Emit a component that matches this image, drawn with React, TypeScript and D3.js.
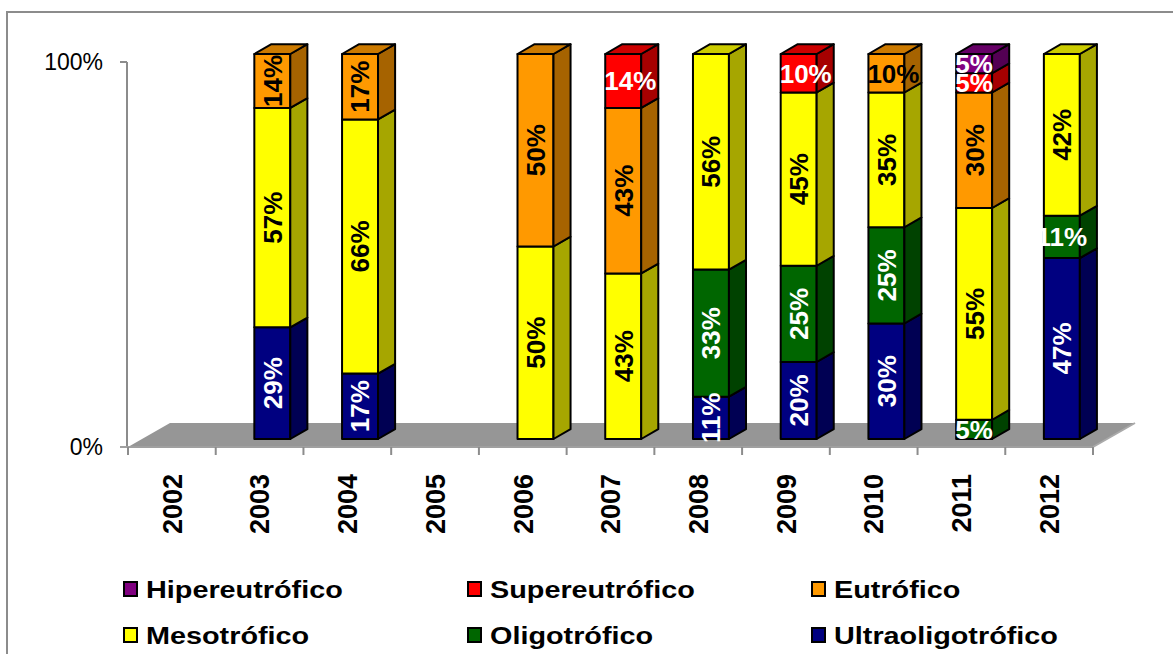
import React from 'react';
import * as d3 from 'd3';

const years = ['2002', '2003', '2004', '2005', '2006', '2007', '2008', '2009', '2010', '2011', '2012'];
const seriesNames = ['Ultraoligotrófico', 'Oligotrófico', 'Mesotrófico', 'Eutrófico', 'Supereutrófico', 'Hipereutrófico'];
const ultra = [0, 29, 17, 0, 0, 0, 11, 20, 30, 0, 47];
const oligo = [0, 0, 0, 0, 0, 0, 33, 25, 25, 5, 11];
const meso = [0, 57, 66, 0, 50, 43, 56, 45, 35, 55, 42];
const eutr = [0, 14, 17, 0, 50, 43, 0, 0, 10, 30, 0];
const superE = [0, 0, 0, 0, 0, 14, 0, 10, 0, 5, 0];
const hiper = [0, 0, 0, 0, 0, 0, 0, 0, 0, 5, 0];
const yTicks = [0, 100];
const legendOrder = ['Hipereutrófico', 'Supereutrófico', 'Eutrófico', 'Mesotrófico', 'Oligotrófico', 'Ultraoligotrófico'];

const colors: Record<string, string> = {
  'Ultraoligotrófico': '#000080',
  'Oligotrófico': '#006600',
  'Mesotrófico': '#FFFF00',
  'Eutrófico': '#FF9900',
  'Supereutrófico': '#FF0000',
  'Hipereutrófico': '#800080',
};
const labelColor: Record<string, string> = {
  'Ultraoligotrófico': '#fff',
  'Oligotrófico': '#fff',
  'Mesotrófico': '#000',
  'Eutrófico': '#000',
  'Supereutrófico': '#fff',
  'Hipereutrófico': '#fff',
};

const shade = (c: string, k: number) => {
  const r = d3.rgb(c);
  return d3.rgb(r.r * k, r.g * k, r.b * k).formatHex();
};

const FONT = '"Liberation Sans", Arial, sans-serif';

export default function App() {
  const W = 1173, H = 654;
  const x0 = 128, x1 = 1093;
  const yBase = 447, yTop = 62;
  const floorDx = 42, floorDy = 24;
  const frontF = 1 / 3, backF = 0.74;

  const table = years.map((yr, i) => ({
    year: yr,
    'Ultraoligotrófico': ultra[i],
    'Oligotrófico': oligo[i],
    'Mesotrófico': meso[i],
    'Eutrófico': eutr[i],
    'Supereutrófico': superE[i],
    'Hipereutrófico': hiper[i],
  }));
  const stacked = d3.stack<any>().keys(seriesNames)(table);

  const x = d3.scaleBand<string>().domain(years).range([x0, x1]).paddingInner(0).paddingOuter(0);
  const y = d3.scaleLinear().domain([0, 100]).range([yBase, yTop]);
  const bw = x.bandwidth();
  const barW = bw * 0.41;
  const fdx = floorDx * frontF, fdy = floorDy * frontF;
  const ddx = floorDx * (backF - frontF), ddy = floorDy * (backF - frontF);

  const bars: any[] = [];
  const labels: any[] = [];
  years.forEach((yr, i) => {
    const total = seriesNames.reduce((s, _k, j) => s + (stacked[j][i][1] - stacked[j][i][0]), 0);
    if (total === 0) return;
    const left = (x(yr) as number) + bw * 0.44 + fdx - 14;
    const right = left + barW;
    let topIdx = -1;
    stacked.forEach((s, j) => { if (s[i][1] - s[i][0] > 0) topIdx = j; });
    stacked.forEach((s, j) => {
      const v = s[i][1] - s[i][0];
      if (v <= 0) return;
      const key = s.key;
      const yb = y(s[i][0]) - fdy;
      const yt = y(s[i][1]) - fdy;
      const c = colors[key];
      bars.push(
        <g key={`${yr}-${key}`} stroke="#000" strokeWidth={2} strokeLinejoin="round">
          <rect x={left} y={yt} width={barW} height={yb - yt} fill={c} />
          <polygon points={`${right},${yt} ${right + ddx},${yt - ddy} ${right + ddx},${yb - ddy} ${right},${yb}`} fill={shade(c, 0.65)} />
          {j === topIdx && (
            <polygon points={`${left},${yt} ${left + ddx},${yt - ddy} ${right + ddx},${yt - ddy} ${right},${yt}`} fill={shade(c, 0.8)} />
          )}
        </g>
      );
      const cx = (left + right) / 2;
      const cy = (yt + yb) / 2;
      const horizontal = key === 'Supereutrófico' || key === 'Hipereutrófico' || (key !== 'Ultraoligotrófico' && v < 12);
      const txt = `${v}%`;
      if (horizontal) {
        const leftAlign = j === topIdx && txt.length > 2;
        labels.push(
          <text key={`l-${yr}-${key}`} x={leftAlign ? left - 1 : cx} y={cy} dy="0.36em" textAnchor={leftAlign ? 'start' : 'middle'}
            fill={labelColor[key]} fontFamily={FONT} fontWeight="bold" fontSize={26}>{txt}</text>
        );
      } else {
        labels.push(
          <text key={`l-${yr}-${key}`} transform={`translate(${cx},${cy}) rotate(-90)`} dy="0.36em" textAnchor="middle"
            fill={labelColor[key]} fontFamily={FONT} fontWeight="bold" fontSize={26}>{txt}</text>
        );
      }
    });
  });

  return (
    <svg width={W} height={H} style={{ position: 'absolute', left: 0, top: 0, display: 'block' }}>
      <rect x={0} y={0} width={W} height={H} fill="#fff" />
      <rect x={7} y={12} width={1185} height={670} fill="#fff" stroke="#8c8c8c" strokeWidth={2} />
      {/* floor */}
      <polygon points={`${x0},${yBase} ${x1},${yBase} ${x1 + floorDx},${yBase - floorDy} ${x0 + floorDx},${yBase - floorDy}`} fill="#969696" />
      <line x1={x1} y1={yBase} x2={x1 + floorDx} y2={yBase - floorDy} stroke="#aaaaaa" strokeWidth={2} />
      {/* y axis */}
      <line x1={x0 - 1} y1={yTop} x2={x0 - 1} y2={yBase} stroke="#8c8c8c" strokeWidth={2} />
      {yTicks.map(t => (
        <g key={`yt-${t}`}>
          <line x1={x0 - 8} x2={x0 - 1} y1={y(t)} y2={y(t)} stroke="#8c8c8c" strokeWidth={2} />
          <text x={103} y={y(t)} dy="0.36em" textAnchor="end" fontFamily={FONT} fontSize={23} fill="#000">{t}%</text>
        </g>
      ))}
      {/* x axis */}
      <line x1={x0 - 8} x2={x1} y1={yBase} y2={yBase} stroke="#a0a0a0" strokeWidth={2} />
      {years.map((yr) => (
        <line key={`xt-${yr}`} x1={x(yr)} x2={x(yr)} y1={yBase} y2={yBase + 8} stroke="#8c8c8c" strokeWidth={2} />
      ))}
      <line x1={x1} x2={x1} y1={yBase} y2={yBase + 8} stroke="#8c8c8c" strokeWidth={2} />
      {years.map((yr) => (
        <text key={`xl-${yr}`} transform={`translate(${(x(yr) as number) + bw / 2},${474}) rotate(-90)`} dy="0.36em" textAnchor="end"
          fontFamily={FONT} fontWeight="bold" fontSize={27} fill="#000">{yr}</text>
      ))}
      {bars}
      {labels}
      {/* legend */}
      {legendOrder.map((k, i) => {
        const col = i % 3, row = Math.floor(i / 3);
        const lx = 124 + col * 344;
        const ly = 582 + row * 46;
        return (
          <g key={`lg-${k}`}>
            <rect x={lx} y={ly} width={13} height={14} fill={colors[k]} stroke="#000" strokeWidth={2} />
            <text transform={`translate(${lx + 22},${ly + 16}) scale(1.2,1)`} fontFamily={FONT} fontWeight="bold" fontSize={24} fill="#000">{k}</text>
          </g>
        );
      })}
    </svg>
  );
}
